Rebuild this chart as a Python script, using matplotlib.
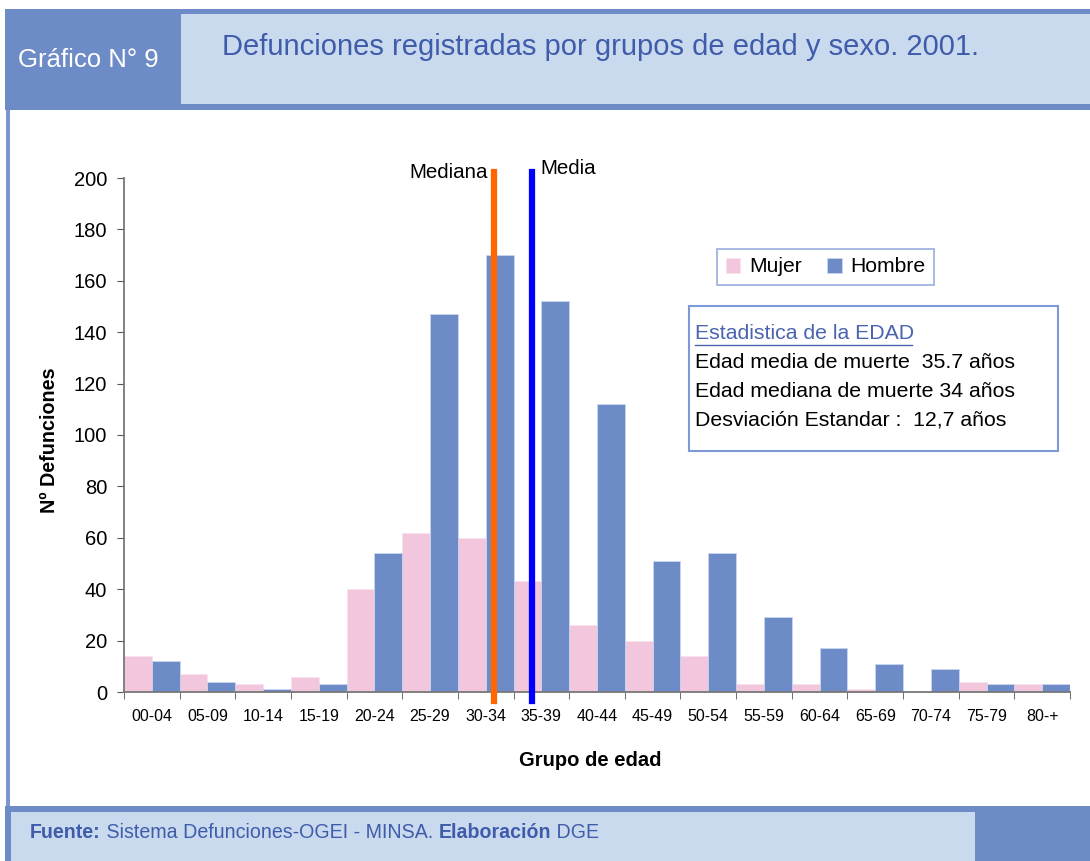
import numpy as np
import matplotlib
matplotlib.use("Agg")
import matplotlib.pyplot as plt
from matplotlib.patches import Rectangle
from matplotlib.lines import Line2D

plt.rcParams['font.family'] = ['Liberation Sans', 'DejaVu Sans']

grupos = ['00-04', '05-09', '10-14', '15-19', '20-24', '25-29', '30-34', '35-39',
          '40-44', '45-49', '50-54', '55-59', '60-64', '65-69', '70-74', '75-79', '80-+']
mujer = [14, 7, 3, 6, 40, 62, 60, 43, 26, 20, 14, 3, 3, 1, 0, 4, 3]
hombre = [12, 4, 1, 3, 54, 147, 170, 152, 112, 51, 54, 29, 17, 11, 9, 3, 3]

# posiciones de mediana y media sobre el eje de grupos
x_mediana = 6.15
x_media = 6.83

c_hombre = '#6d8bc7'
c_mujer = '#f2c6dc'
c_oscuro = '#6d8bc7'
c_claro = '#c9d9ee'
c_texto = '#3f5cab'

W, H = 1090, 861
fig = plt.figure(figsize=(W / 100, H / 100), dpi=100)


def px(x, y):
    return x / W, 1 - y / H


def rect(x0, y0, x1, y1, color):
    fig.add_artist(Rectangle(px(x0, y1), (x1 - x0) / W, (y1 - y0) / H,
                             transform=fig.transFigure, facecolor=color,
                             edgecolor='none', zorder=1))


# cabecera y pie
rect(5, 9, W, 110, c_oscuro)
rect(181, 14, W, 104, c_claro)
rect(6, 110, 10, 808, '#7b96cf')
rect(5, 806, W, H, c_oscuro)
rect(11, 812, 975, H, c_claro)

fig.text(*px(88, 60), 'Gráfico N° 9', color='white', fontsize=18.5,
         ha='center', va='center')
fig.text(*px(222, 47), 'Defunciones registradas por grupos de edad y sexo. 2001.',
         color=c_texto, fontsize=21, ha='left', va='center')

# pie con partes en negrita
partes = [('Fuente:', 'bold'), (' Sistema Defunciones-OGEI - MINSA. ', 'normal'),
          ('Elaboración', 'bold'), (' DGE', 'normal')]
fig.canvas.draw()
r = fig.canvas.get_renderer()
xx = 30
for s, w in partes:
    t = fig.text(*px(xx, 833), s, color=c_texto, fontsize=14.1, fontweight=w,
                 ha='left', va='center')
    xx += t.get_window_extent(r).width

# grafico
ax = fig.add_axes([124 / W, 1 - 692 / H, 946 / W, 514 / H])
x = np.arange(len(grupos))
ax.bar(x - 0.25, mujer, width=0.5, color=c_mujer, edgecolor='#f8e2ee',
       linewidth=0.6, label='Mujer', zorder=2)
ax.bar(x + 0.25, hombre, width=0.5, color=c_hombre, edgecolor='#c9d6ef',
       linewidth=0.6, label='Hombre', zorder=2)

ax.set_xlim(-0.5, len(grupos) - 0.5)
ax.set_ylim(0, 200)
ax.set_yticks(np.arange(0, 201, 20))
ax.set_xticks(x)
ax.set_xticklabels(grupos)
ax.set_xticks(np.arange(-0.5, len(grupos), 1), minor=True)
ax.tick_params(axis='x', which='major', length=0, pad=12, labelsize=11.5)
ax.tick_params(axis='x', which='minor', length=5, color='#555555')
ax.tick_params(axis='y', length=5, pad=7, labelsize=14.5, color='#555555')
for s in ['top', 'right']:
    ax.spines[s].set_visible(False)
for s in ['left', 'bottom']:
    ax.spines[s].set_color('#777777')
    ax.spines[s].set_linewidth(1.3)

ax.plot([x_mediana, x_mediana], [-3.5, 202.5], color='#ff6600', lw=4.5,
        clip_on=False, zorder=4)
ax.plot([x_media, x_media], [-3.5, 202.5], color='#0000ff', lw=4.5,
        clip_on=False, zorder=4)
fig.text(*px(488, 172), 'Mediana', fontsize=14.8, ha='right', va='center')
fig.text(*px(540, 169), 'Media', fontsize=14.8, ha='left', va='center')

fig.text(*px(50, 440), 'Nº Defunciones', fontsize=14.2, fontweight='bold',
         rotation=90, ha='center', va='center')
fig.text(*px(590, 760), 'Grupo de edad', fontsize=14.5, fontweight='bold',
         ha='center', va='center')

leg = ax.legend(loc='center', bbox_to_anchor=px(825.5, 267),
                bbox_transform=fig.transFigure, ncol=2, fontsize=15.2,
                frameon=True, fancybox=False, handlelength=0.7,
                handleheight=0.7, handletextpad=0.4, columnspacing=1.2,
                borderpad=0.4)
leg.get_frame().set_edgecolor('#7e9ad4')
leg.get_frame().set_linewidth(1.2)

# recuadro de estadisticas
fig.add_artist(Rectangle(px(689, 451), (1058 - 689) / W, (451 - 306) / H,
                         transform=fig.transFigure, facecolor='white',
                         edgecolor='#7e9ad4', linewidth=1.5, zorder=5))
fig.text(*px(695, 334), 'Estadistica de la EDAD', color='#4a64b0',
         fontsize=15.3, ha='left', va='center', zorder=6)
fig.add_artist(Line2D([695 / W, 912 / W], [1 - 345 / H, 1 - 345 / H],
                      transform=fig.transFigure, color='#4a64b0', lw=1,
                      zorder=6))
lineas = ['Edad media de muerte  35.7 años', 'Edad mediana de muerte 34 años',
          'Desviación Estandar :  12,7 años']
for i, s in enumerate(lineas):
    fig.text(*px(695, 363 + 28.5 * i), s, fontsize=15.3, ha='left',
             va='center', zorder=6)

fig.savefig('out.png', dpi=100)
